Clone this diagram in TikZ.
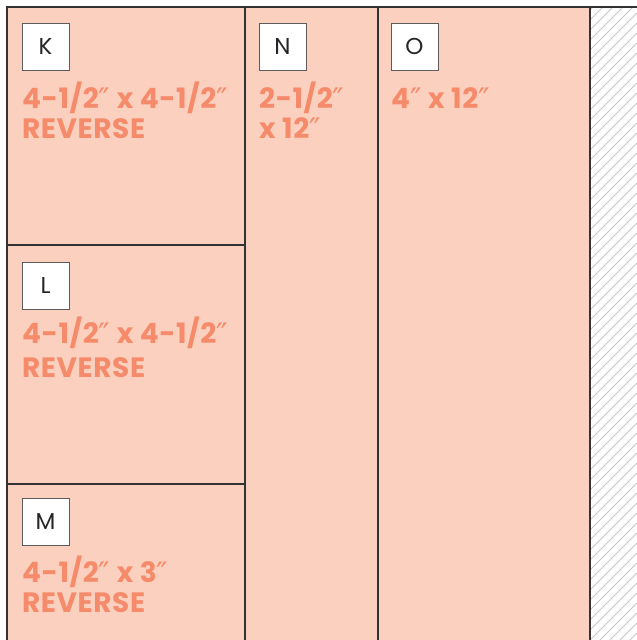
\documentclass[tikz,border=0pt]{standalone}
\usepackage{fontspec}
\setmainfont{Poppins}
\newfontfamily\labfont{Poppins}[LetterSpace=2]
\newfontfamily\dqfont{DejaVu Sans}
\newcommand{\dq}{{\dqfont\mdseries\fontsize{31}{31}\selectfont\raisebox{-2.5pt}[0pt][0pt]{\char"2033}}}
\definecolor{panel}{HTML}{FBD0BE}
\definecolor{labtxt}{HTML}{F58B6B}
\definecolor{edge}{HTML}{333333}
\definecolor{hatch}{HTML}{C8C8C8}
\tikzset{
  idbox/.style={draw=edge!80, fill=white, line width=0.9pt, minimum size=47pt, inner sep=0pt, font=\fontsize{23}{23}\selectfont, text=black!85},
  dims/.style={anchor=base west, inner sep=0pt, text=labtxt, font=\labfont\bfseries\fontsize{28}{28}\selectfont},
  panelline/.style={draw=edge, line width=1.1pt}
}
\begin{document}
\begin{tikzpicture}[x=1pt,y=-1pt]
\useasboundingbox (0,0) rectangle (637,640);
% fills
\fill[panel] (7,7) rectangle (590,640);
% hatch
\begin{scope}
\clip (590,7) rectangle (637,640);
\foreach \i in {0,...,72} {
  \draw[hatch, line width=0.9pt] (\i*10-70,650) -- (\i*10-70+700,-50);
}
\end{scope}
% lines
\draw[panelline] (7,640) -- (7,7) -- (637,7);
\draw[panelline] (245,7) -- (245,640);
\draw[panelline] (378,7) -- (378,640);
\draw[panelline] (590,7) -- (590,640);
\draw[panelline] (7,245) -- (245,245);
\draw[panelline] (7,484) -- (245,484);
% id boxes
\node[idbox] (K) at (45.5,46.5) {K};
\node[idbox] (L) at (45.5,285.5) {L};
\node[idbox] (M) at (45.5,521.5) {M};
\node[idbox] (N) at (282.5,46.5) {N};
\node[idbox] (O) at (414.5,46.5) {O};
% dims
\node[dims] (k1) at (22,108) {4-1/2\dq{} x 4-1/2\dq};
\node[dims] (k2) at (22,138) {REVERSE};
\node[dims] (l1) at (22,343) {4-1/2\dq{} x 4-1/2\dq};
\node[dims] (l2) at (22,377) {REVERSE};
\node[dims] (m1) at (22,582) {4-1/2\dq{} x 3\dq};
\node[dims] (m2) at (22,612) {REVERSE};
\node[dims] (n1) at (259,108) {2-1/2\dq};
\node[dims] (n2) at (259,138) {x 12\dq};
\node[dims] (o1) at (391,108) {4\dq{} x 12\dq};
\end{tikzpicture}
\end{document}
